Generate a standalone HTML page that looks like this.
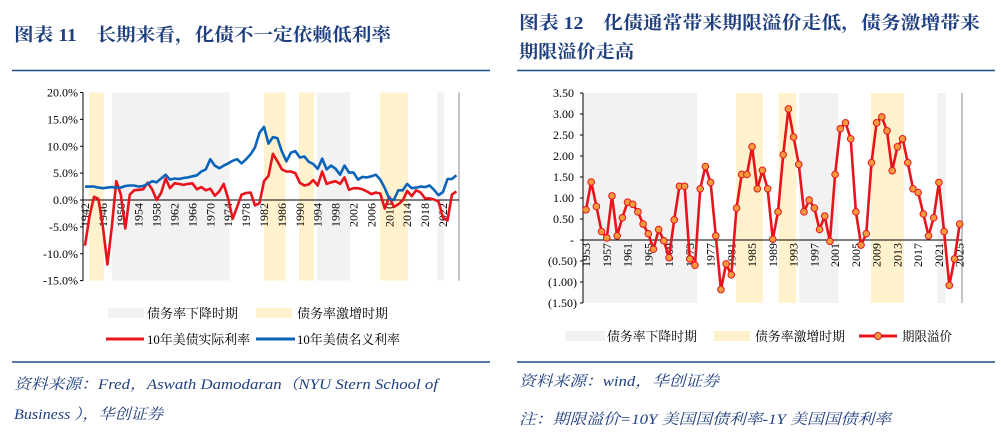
<!DOCTYPE html>
<html><head><meta charset="utf-8"><style>
html,body{margin:0;padding:0;background:#fff;width:1001px;height:435px;overflow:hidden}
svg text{font-family:"Liberation Serif","Noto Serif CJK SC",serif}
</style></head><body>
<svg id="root" width="1001" height="435" viewBox="0 0 1001 435" xmlns="http://www.w3.org/2000/svg">
<text x="14" y="41" font-size="18" font-weight="bold" fill="#1f3f7f" textLength="377" lengthAdjust="spacingAndGlyphs">图表 11　长期来看，化债不一定依赖低利率</text>
<text x="519" y="29" font-size="18" font-weight="bold" fill="#1f3f7f" textLength="461" lengthAdjust="spacingAndGlyphs">图表 12　化债通常带来期限溢价走低，债务激增带来</text>
<text x="519" y="58" font-size="18" font-weight="bold" fill="#1f3f7f" textLength="115" lengthAdjust="spacingAndGlyphs">期限溢价走高</text>
<line x1="12" y1="70.5" x2="490" y2="70.5" stroke="#1f4e8c" stroke-width="1.5"/>
<line x1="517" y1="70.5" x2="995" y2="70.5" stroke="#1f4e8c" stroke-width="1.5"/>
<g id="left"></g>
<g id="right"></g>
<g>
<rect x="108" y="308" width="36" height="10" fill="#f2f2f2"/>
<text x="147" y="318" font-size="13" textLength="91" lengthAdjust="spacingAndGlyphs">债务率下降时期</text>
<rect x="256" y="308" width="36" height="10" fill="#fff2cc"/>
<text x="297" y="318" font-size="13" textLength="91" lengthAdjust="spacingAndGlyphs">债务率激增时期</text>
<line x1="106" y1="339" x2="144" y2="339" stroke="#e8141c" stroke-width="3"/>
<text x="147" y="344" font-size="13" textLength="103" lengthAdjust="spacingAndGlyphs">10年美债实际利率</text>
<line x1="256" y1="339" x2="295" y2="339" stroke="#0a64b9" stroke-width="3"/>
<text x="297" y="344" font-size="13" textLength="103" lengthAdjust="spacingAndGlyphs">10年美债名义利率</text>
</g>
<g>
<rect x="565" y="331" width="40" height="10" fill="#f2f2f2"/>
<text x="607" y="341" font-size="13" textLength="90" lengthAdjust="spacingAndGlyphs">债务率下降时期</text>
<rect x="714" y="331" width="36" height="10" fill="#fff2cc"/>
<text x="755" y="341" font-size="13" textLength="90" lengthAdjust="spacingAndGlyphs">债务率激增时期</text>
<line x1="859" y1="336" x2="897" y2="336" stroke="#e8141c" stroke-width="3"/>
<circle cx="878" cy="336" r="3.5" fill="#f39c3c" stroke="#e8141c" stroke-width="1"/>
<text x="902" y="341" font-size="13" textLength="50" lengthAdjust="spacingAndGlyphs">期限溢价</text>
</g>
<line x1="12" y1="362" x2="490" y2="362" stroke="#1f4e8c" stroke-width="1.5"/>
<line x1="517" y1="362" x2="995" y2="362" stroke="#1f4e8c" stroke-width="1.5"/>
<text x="14" y="389" font-size="15" font-style="italic" fill="#1f3f7f" textLength="424" lengthAdjust="spacingAndGlyphs">资料来源：Fred，Aswath Damodaran（NYU Stern School of</text>
<text x="14" y="419" font-size="15" font-style="italic" fill="#1f3f7f" textLength="149" lengthAdjust="spacingAndGlyphs">Business ），华创证券</text>
<text x="519" y="386" font-size="15" font-style="italic" fill="#1f3f7f" textLength="200" lengthAdjust="spacingAndGlyphs">资料来源：wind，华创证券</text>
<text x="519" y="424" font-size="15" font-style="italic" fill="#1f3f7f" textLength="372" lengthAdjust="spacingAndGlyphs">注：期限溢价=10Y 美国国债利率-1Y 美国国债利率</text>
</svg>
<script>
const leftYears=[];for(let y=1942;y<=2025;y++)leftYears.push(y);
const nominalRate=[2.5,2.5,2.5,2.3,2.2,2.3,2.4,2.3,2.3,2.6,2.7,2.7,2.5,2.6,3.0,3.5,3.3,4.0,4.7,3.8,4.0,3.9,4.1,4.2,4.4,4.6,5.3,5.7,7.6,6.4,5.9,6.4,6.8,7.3,7.6,6.8,7.6,8.5,9.8,12.5,13.6,10.5,11.7,11.5,9.0,7.2,8.8,9.1,7.9,8.1,7.1,6.7,5.8,7.7,5.7,6.4,5.8,4.7,6.4,5.1,5.1,3.8,4.3,4.2,4.4,4.7,3.8,2.2,0.2,0.0,1.8,1.8,3.0,2.2,2.3,2.5,2.4,2.7,1.9,0.9,1.5,3.9,3.9,4.6,4.2];
const realRate=[-8.5,-3,0.6,0.2,-5,-12,-5,3.5,1,-5.3,1,1.8,1.9,2.0,3.2,2,0,1.3,4,2.2,3.1,3.0,2.8,3.0,3.1,2.0,2.4,1.8,2.1,0.8,1.6,3.0,0.2,-3.5,-1.3,1.0,1.3,1.4,-1.0,-0.6,3.5,4.5,8.6,7.2,5.7,5.3,5.3,5.0,3.2,2.7,2.9,3.7,2.7,5.3,3.0,3.3,3.5,3.0,4.2,1.9,2.2,2.2,2.0,1.6,1.1,1.4,1.2,-1.6,0.6,-1.3,-0.8,-0.1,1.7,0.7,1.8,1.4,0.3,0.3,0.1,-0.3,-3.3,-3.8,1.0,1.6];
const leftTicks=[20,15,10,5,0,-5,-10,-15];
const leftBands=[[1942.9,1946.2,'y'],[1948,1974.3,'g'],[1982,1986.8,'y'],[1989.8,1993.2,'y'],[1993.8,2001.2,'g'],[2007.9,2014.2,'y'],[2020.7,2022.2,'g']];

const rightYears=[];for(let y=1953;y<=2025;y++)rightYears.push(y);
const termPremium=[0.72,1.38,0.80,0.20,0.05,1.05,0.10,0.53,0.90,0.85,0.67,0.38,0.15,-0.22,0.25,-0.02,-0.42,0.48,1.28,1.28,-0.45,-0.60,1.22,1.75,1.37,0.10,-1.18,-0.57,-0.83,0.76,1.56,1.56,2.22,1.22,1.66,1.22,0.02,0.67,2.03,3.12,2.45,1.80,0.67,0.95,0.76,0.25,0.57,-0.03,1.56,2.65,2.79,2.41,0.67,-0.12,0.15,1.84,2.79,2.93,2.60,1.65,2.22,2.41,1.84,1.22,1.13,0.62,0.10,0.53,1.37,0.20,-1.08,-0.45,0.38];
const rightTicks=[3.5,3,2.5,2,1.5,1,0.5,0,-0.5,-1,-1.5];
const rightBands=[[1952.5,1974.4,'g'],[1981.9,1987.1,'y'],[1990.1,1993.5,'y'],[1994.1,2001.6,'g'],[2007.9,2014.3,'y'],[2020.7,2022.3,'g']];

const NS='http://www.w3.org/2000/svg';
function mk(p,t,a){const e=document.createElementNS(NS,t);for(const k in a)e.setAttribute(k,a[k]);p.appendChild(e);return e;}
function pts(xs,vs,fx,fy){return vs.map((v,i)=>fx(xs[i]).toFixed(1)+','+fy(v).toFixed(1)).join(' ');}

// left chart
const L=document.getElementById('left');
const lx=y=>85+(y-1942)*4.475;
const ly=v=>200-v*5.375;
leftBands.forEach(b=>{const r=mk(L,'rect',{x:lx(b[0]),y:ly(20),width:lx(b[1])-lx(b[0]),height:ly(-15)-ly(20),fill:b[2]=='y'?'#fff2cc':'#f2f2f2'});

});
let a=mk(L,'line',{x1:83,y1:ly(20),x2:83,y2:ly(-15),stroke:'#000','stroke-width':1});


a=mk(L,'line',{x1:459,y1:ly(20),x2:459,y2:ly(-15),stroke:'#888','stroke-width':1});


leftTicks.forEach(t=>{mk(L,'line',{x1:80,x2:83,y1:ly(t),y2:ly(t),stroke:'#000'});
const tx=mk(L,'text',{x:78,y:ly(t)+4,'font-size':12,'text-anchor':'end'});tx.textContent=t.toFixed(1)+'%';

});
a=mk(L,'line',{x1:83,y1:ly(0),x2:459,y2:ly(0),stroke:'#000'});


leftYears.forEach(y=>{if((y-1942)%4==0){const tx=mk(L,'text',{transform:`translate(${lx(y)+4},${ly(0)+3}) rotate(-90)`,'font-size':12,'text-anchor':'end'});tx.textContent=y;

}});
let p=mk(L,'polyline',{points:pts(leftYears,realRate,lx,ly),fill:'none',stroke:'#e8141c','stroke-width':2.6,'stroke-linejoin':'round'});


p=mk(L,'polyline',{points:pts(leftYears,nominalRate,lx,ly),fill:'none',stroke:'#0a64b9','stroke-width':2.6,'stroke-linejoin':'round'});



// right chart
const R=document.getElementById('right');
const rx=y=>586+(y-1953)*5.19;
const ry=v=>240-v*42;
rightBands.forEach(b=>{const r=mk(R,'rect',{x:rx(b[0]),y:ry(3.5),width:rx(b[1])-rx(b[0]),height:ry(-1.5)-ry(3.5),fill:b[2]=='y'?'#fff2cc':'#f2f2f2'});

});
a=mk(R,'line',{x1:583,y1:ry(3.5),x2:583,y2:ry(-1.5),stroke:'#000'});


a=mk(R,'line',{x1:962,y1:ry(3.5),x2:962,y2:ry(-1.5),stroke:'#888'});


rightTicks.forEach(t=>{mk(R,'line',{x1:580,x2:583,y1:ry(t),y2:ry(t),stroke:'#000'});
const s=t==0?'-':(t<0?'('+(-t).toFixed(2)+')':t.toFixed(2));
const tx=mk(R,'text',{x:t<0?577:574,y:ry(t)+4,'font-size':12,'text-anchor':'end'});tx.textContent=s;

});
a=mk(R,'line',{x1:583,y1:ry(0),x2:962,y2:ry(0),stroke:'#000'});


rightYears.forEach(y=>{if((y-1953)%4==0){const tx=mk(R,'text',{transform:`translate(${rx(y)+4},${ry(0)+3}) rotate(-90)`,'font-size':12,'text-anchor':'end'});tx.textContent=y;

}});
p=mk(R,'polyline',{points:pts(rightYears,termPremium,rx,ry),fill:'none',stroke:'#e8141c','stroke-width':2.6,'stroke-linejoin':'round'});


termPremium.forEach((v,i)=>{const c=mk(R,'circle',{cx:rx(rightYears[i]),cy:ry(v),r:3.3,fill:'#f39c3c',stroke:'#e8141c','stroke-width':1});

});
</script>
</body></html>
